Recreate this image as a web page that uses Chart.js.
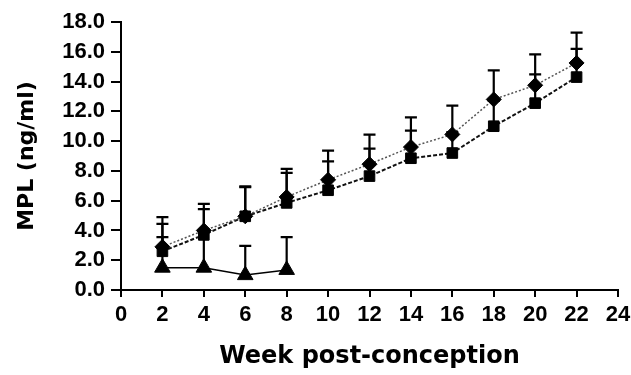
<!DOCTYPE html>
<html>
<head>
<meta charset="utf-8">
<script src="https://cdn.jsdelivr.net/npm/chart.js@4"></script>
<style>
html,body{margin:0;padding:0;background:#fff;}
#wrap{width:631px;height:375px;position:relative;}
</style>
</head>
<body>
<div id="wrap"><canvas id="c" width="631" height="375"></canvas></div>
<script>
const weeks = [2,4,6,8,10,12,14,16,18,20,22];
const seriesA = [2.9, 4.0, 4.95, 6.25, 7.4, 8.45, 9.6, 10.45, 12.8, 13.75, 15.25];
const seriesAErrTop = [4.9, 5.79, 6.96, 8.13, 9.36, 10.44, 11.6, 12.39, 14.75, 15.82, 17.28];
const seriesB = [2.6, 3.7, 4.95, 5.85, 6.7, 7.65, 8.85, 9.2, 11.0, 12.55, 14.3];
const seriesBErrTop = [4.44, 5.43, 6.9, 7.86, 8.64, 9.5, 10.7, 10.6, 12.7, 14.48, 16.2];
const weeksC = [2,4,6,8];
const seriesC = [1.5, 1.5, 1.0, 1.35];
const seriesCErrTop = [3.55, 3.9, 2.96, 3.55];
const xTicks = [0,2,4,6,8,10,12,14,16,18,20,22,24];
const yTicks = [0,2,4,6,8,10,12,14,16,18];
const xTitle = 'Week post-conception';
const yTitle = 'MPL (ng/ml)';

function pts(xs, ys){ return xs.map((x,i)=>({x:x, y:ys[i]})); }

const errorBars = [
  {xs: weeks, ys: seriesA, tops: seriesAErrTop},
  {xs: weeks, ys: seriesB, tops: seriesBErrTop},
  {xs: weeksC, ys: seriesC, tops: seriesCErrTop}
];

const errPlugin = {
  id: 'errbars',
  beforeDatasetsDraw(chart){
    const ctx = chart.ctx, xs = chart.scales.x, ys = chart.scales.y;
    ctx.save();
    ctx.strokeStyle = '#000';
    ctx.lineWidth = 2.2;
    errorBars.forEach(s=>{
      s.xs.forEach((x,i)=>{
        const px = xs.getPixelForValue(x);
        const p0 = ys.getPixelForValue(s.ys[i]);
        const p1 = ys.getPixelForValue(s.tops[i]);
        ctx.beginPath();
        ctx.moveTo(px, p0); ctx.lineTo(px, p1);
        ctx.moveTo(px-6, p1); ctx.lineTo(px+6, p1);
        ctx.stroke();
      });
    });
    ctx.restore();
  }
};

const TICKFONT = 'Liberation Sans';
const FONT = 'DejaVu Sans';

new Chart(document.getElementById('c'), {
  type: 'scatter',
  data: {
    datasets: [
      {data: pts(weeks, seriesA), showLine: true, borderColor: '#555', borderWidth: 1.5, borderDash: [2,2],
       pointStyle: 'rectRot', pointRadius: 7.5, pointBackgroundColor: '#000', pointBorderColor: '#000', pointBorderWidth: 1},
      {data: pts(weeks, seriesB), showLine: true, borderColor: '#111', borderWidth: 2, borderDash: [4,2],
       pointStyle: 'rect', pointRadius: 7.5, pointBackgroundColor: '#000', pointBorderColor: '#000', pointBorderWidth: 1},
      {data: pts(weeksC, seriesC), showLine: true, borderColor: '#000', borderWidth: 1.5,
       pointStyle: 'triangle', pointRadius: 9, pointBackgroundColor: '#000', pointBorderColor: '#000', pointBorderWidth: 1}
    ]
  },
  options: {
    responsive: false,
    animation: false,
    clip: false,
    layout: {padding: {left: 10, right: 13, top: 22, bottom: 0}},
    plugins: {legend: {display: false}, tooltip: {enabled: false}},
    scales: {
      x: {
        type: 'linear', min: 0, max: 24,
        afterBuildTicks(s){ s.ticks = xTicks.map(v=>({value:v})); },
        afterFit(s){ s.height = 375 - 0 - 290; s.paddingRight = 0; s.paddingLeft = 0; },
        border: {display: true, color: '#000', width: 2},
        grid: {drawOnChartArea: false, color: '#000', lineWidth: 2, tickLength: 7},
        ticks: {color: '#000', font: {family: TICKFONT, weight: 'bold', size: 22}, padding: 5, maxRotation: 0},
        title: {display: true, text: xTitle, color: '#000', font: {family: FONT, weight: 'bold', size: 24}, padding: {top: 4, bottom: 4}}
      },
      y: {
        min: 0, max: 18,
        afterBuildTicks(s){ s.ticks = yTicks.map(v=>({value:v})); },
        afterFit(s){ s.width = 121 - 10; s.paddingTop = 0; s.paddingBottom = 0; },
        border: {display: true, color: '#000', width: 2},
        grid: {drawOnChartArea: false, color: '#000', lineWidth: 2, tickLength: 10},
        ticks: {color: '#000', font: {family: TICKFONT, weight: 'bold', size: 22}, padding: 6,
                callback: v => Number(v).toFixed(1)},
        title: {display: true, text: yTitle, color: '#000', font: {family: FONT, weight: 'bold', size: 22}, padding: {top: 4, bottom: 4}}
      }
    }
  },
  plugins: [errPlugin]
});
</script>
</body>
</html>
